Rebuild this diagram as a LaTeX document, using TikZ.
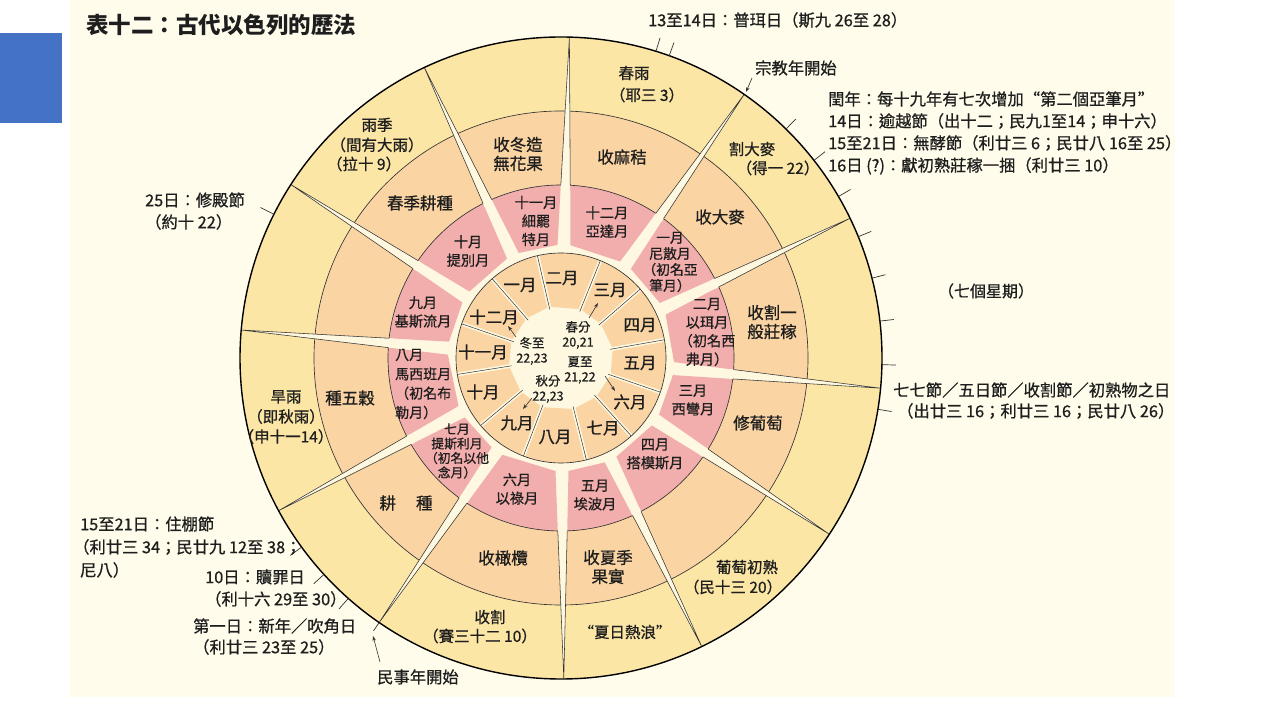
\documentclass[tikz,border=0pt]{standalone}
\usepackage{fontspec}
\setmainfont{Noto Sans CJK TC}[FakeBold=0.8]
\newfontfamily\titlefont{Noto Sans CJK TC}
\usetikzlibrary{calc,arrows.meta}
\definecolor{bgc}{HTML}{FFFCEB}
\definecolor{yel}{HTML}{FCE6A6}
\definecolor{pch}{HTML}{FAD4A3}
\definecolor{pnk}{HTML}{F2AEAC}
\definecolor{crm}{HTML}{FEF8E0}
\definecolor{lin}{HTML}{333333}
\definecolor{blu}{HTML}{4472C4}
\definecolor{txt}{HTML}{1E1E1E}
\begin{document}
\begin{tikzpicture}[x=1pt,y=1pt,
  ytxt/.style={font=\fontsize{15.5}{20}\selectfont, align=center, inner sep=0pt, text=txt},
  ptxt/.style={font=\fontsize{16.5}{19}\selectfont, align=center, inner sep=0pt, text=txt},
  ktxt/.style={font=\fontsize{14.2}{18.5}\selectfont, align=center, inner sep=0pt, text=txt},
  mtxt/.style={font=\fontsize{16.5}{19}\selectfont, inner sep=0pt, text=txt},
  ctxt/.style={font=\fontsize{12.5}{15}\selectfont, align=center, inner sep=0pt, text=txt},
  ann/.style={font=\fontsize{16.3}{18}\selectfont, anchor=west, inner sep=0pt, text=txt},
  ringline/.style={draw=lin, line width=0.65pt},
  ticky/.style={draw=lin, line width=0.7pt},
  pointer/.style={draw=lin, line width=0.6pt, -{Stealth[length=5pt,width=3.5pt]}},
]
\useasboundingbox (0,0) rectangle (1280,720);
\fill[white] (0,0) rectangle (1280,720);
\fill[bgc] (70,23) rectangle (1175,720);
\fill[blu] (0,597) rectangle (62,687);
\coordinate (C) at (561,362);
% rings
\fill[yel] (C) circle[radius=321];
\fill[pch] (C) circle[radius=247];
\draw[ringline] (C) circle[radius=247];
\fill[crm] (C) circle[radius=173];
% pink (Hebrew months)
\foreach \a/\b in {55.2/88.5, 25.8/55.2, -5.4/25.8, -33.3/-5.4, -64/-33.3, -89.5/-64, -124.5/-89.5, -151.6/-124.5, -185/-151.6, 147.3/175, 115.2/147.3, 88.5/115.2}{
  \fill[pnk] ($(C)+(\a:113)+(\a+90:6.5)$) -- ($(C)+(\a:173)+(\a+90:4.7)$) arc[start angle=\a+1.55, end angle=\b-1.55, radius=173] -- ($(C)+(\b:113)+(\b-90:6.5)$) -- cycle;
}
\draw[ringline] (C) circle[radius=173];
% inner months
\foreach \a/\b in {103/131, 68/103, 41/68, 10/41, -19/10, -48/-19, -76/-48, -111/-76, -140/-111, -171/-140, 161/189, 131/161}{
  \fill[pch] ($(C)+(\a:52)+(\a+90:2)$) -- ($(C)+(\a:105)+(\a+90:2)$) arc[start angle=\a+1.1, end angle=\b-1.1, radius=105] -- ($(C)+(\b:52)+(\b-90:2)$) -- cycle;
}
\foreach \a in {103,68,41,10,-19,-48,-76,-111,-140,-171,161,131}{
  \draw[lin, line width=0.5pt] ($(C)+(\a:50)$) -- ($(C)+(\a:105)$);
}
\draw[ringline] (C) circle[radius=105];
% radial wedges
\foreach \a in {88.5,55.2,25.8,-5.4,-33.3,-64,-89.5,-124.5,-151.6,175,147.3,115.2}{
  \fill[crm] ($(C)+(\a:169)+(\a+90:4.8)$) -- ($(C)+(\a:321)$) -- ($(C)+(\a:169)+(\a-90:4.8)$) -- cycle;
  \draw[lin, line width=0.55pt] ($(C)+(\a:173)+(\a+90:4.7)$) -- ($(C)+(\a:321)$) -- ($(C)+(\a:173)+(\a-90:4.7)$);
}
\draw[black, line width=1.4pt] (C) circle[radius=321];
% ticks
\foreach \t/\l [count=\i] in {45.5/335,38/335,30.2/335,22.2/335,14.4/335,6.6/335,-1.2/335,-9.2/335,72.8/335,70.3/335,153.4/336,216.1/335,222.4/335,228.5/335,235.5/331}{
  \coordinate (ta\i) at ($(C)+(\t:321)$);
  \coordinate (tb\i) at ($(C)+(\t:\l)$);
  \draw[ticky] (ta\i) -- (tb\i);
}
% ---------- texts (pixel coordinates) ----------
\begin{scope}[shift={(0,720)}, yscale=-1]
\node[anchor=west, inner sep=0pt, text=txt, font=\titlefont\fontsize{22.5}{26}\selectfont\bfseries] (title) at (86,25) {表十二：古代以色列的歷法};
% yellow ring
\node[ytxt] (y1a) at (377,135) {雨季\\（間有大雨）};
\node[ytxt] (y1b) at (364,164) {（拉十 9）};
\node[ytxt] (y2a) at (634,73) {春雨};
\node[ytxt] (y2b) at (647,95) {（耶三 3）};
\node[ytxt] (y3a) at (752,149) {割大麥};
\node[ytxt] (y3b) at (778,168) {（得一 22）};
\node[ytxt] (y4a) at (747,567) {葡萄初熟};
\node[ytxt] (y4b) at (733,587) {（民十三 20）};
\node[ytxt] (y5) at (625,632) {“夏日熱浪”};
\node[ytxt] (y6a) at (490,617) {收割};
\node[ytxt] (y6b) at (480,636) {（賽三十二 10）};
\node[ytxt] (y7) at (286,417) {旱雨\\（即秋雨）\\（申十一14）};
% peach ring
\node[ptxt] (p1) at (518,154) {收冬造\\無花果};
\node[ptxt] (p2) at (420,203) {春季耕種};
\node[ptxt] (p3) at (622,157) {收麻秸};
\node[ptxt] (p4) at (720,217) {收大麥};
\node[ptxt] (p5) at (772,322) {收割一\\般莊稼};
\node[ptxt] (p6) at (758,423) {修葡萄};
\node[ptxt] (p7) at (608,567) {收夏季\\果實};
\node[ptxt] (p8) at (503,558) {收橄欖};
\node[ptxt] (p9) at (406,503) {耕\hspace{20pt}種};
\node[ptxt] (p10) at (350,398) {種五穀};
% pink ring
\node[ktxt] (k11) at (536,221) {十一月\\細罷\\特月};
\node[ktxt] (k12) at (607,222) {十二月\\亞達月};
\node[ktxt, font=\fontsize{13.8}{16}\selectfont] (k1) at (670,262) {一月\\尼散月\\（初名亞\\筆月）};
\node[ktxt] (k2) at (707,332) {二月\\以珥月\\（初名西\\弗月）};
\node[ktxt] (k3) at (693,400) {三月\\西彎月};
\node[ktxt] (k4) at (655,454) {四月\\搭模斯月};
\node[ktxt] (k5) at (595,495) {五月\\埃波月};
\node[ktxt] (k6) at (517,489) {六月\\以祿月};
\node[ktxt, font=\fontsize{12.8}{14.5}\selectfont] (k7) at (457,451) {七月\\提斯利月\\（初名以他\\念月）};
\node[ktxt, align=left, anchor=west, font=\fontsize{14}{19.3}\selectfont] (k8) at (395,384) {八月\\馬西班月\\（初名布\\勒月）};
\node[ktxt] (k9) at (423,312) {九月\\基斯流月};
\node[ktxt] (k10) at (468,251) {十月\\提別月};
% inner months
\node[mtxt] (m1) at (520,285) {一月};
\node[mtxt] (m2) at (562,278) {二月};
\node[mtxt] (m3) at (610,290) {三月};
\node[mtxt] (m4) at (640,325) {四月};
\node[mtxt] (m5) at (640,363) {五月};
\node[mtxt] (m6) at (630,402) {六月};
\node[mtxt] (m7) at (603,428) {七月};
\node[mtxt] (m8) at (555,437) {八月};
\node[mtxt] (m9) at (517,423) {九月};
\node[mtxt] (m10) at (483,392) {十月};
\node[mtxt] (m11) at (483,352) {十一月};
\node[mtxt] (m12) at (494,317) {十二月};
% centre
\node[ctxt] (c1) at (532,351) {冬至\\22,23};
\node[ctxt] (c2) at (578,335) {春分\\20,21};
\node[ctxt] (c3) at (580,370) {夏至\\21,22};
\node[ctxt] (c4) at (548,389) {秋分\\22,23};
\coordinate (c1s) at (516,337); \coordinate (c1e) at (508,326);
\coordinate (c2s) at (589,318); \coordinate (c2e) at (598,303);
\coordinate (c3s) at (605,376); \coordinate (c3e) at (615,391);
\coordinate (c4s) at (532,398); \coordinate (c4e) at (523,409);
\draw[pointer] (c1s) -- (c1e);
\draw[pointer] (c2s) -- (c2e);
\draw[pointer] (c3s) -- (c3e);
\draw[pointer] (c4s) -- (c4e);
% annotations
\node[ann] (a1) at (648,20) {13至14日：普珥日（斯九 26至 28）};
\node[ann] (a2) at (755,68) {宗教年開始};
\node[ann] (a3) at (828,99) {閏年：每十九年有七次增加“第二個亞筆月”};
\node[ann] (a4) at (828,121) {14日：逾越節（出十二；民九1至14；申十六）};
\node[ann] (a5) at (828,143) {15至21日：無酵節（利廿三 6；民廿八 16至 25）};
\node[ann] (a6) at (828,166) {16日 (?)：獻初熟莊稼一捆（利廿三 10）};
\node[ytxt, font=\fontsize{16}{18}\selectfont] (a7) at (986,291) {（七個星期）};
\node[ann] (a8) at (893,390) {七七節／五日節／收割節／初熟物之日};
\node[ann] (a9) at (897,411) {（出廿三 16；利廿三 16；民廿八 26）};
\node[ann] (a10) at (145,200) {25日：修殿節};
\node[ann] (a11) at (145,222) {（約十 22）};
\node[ann] (a12) at (80,524) {15至21日：住棚節};
\node[ann] (a13) at (73,547) {（利廿三 34；民廿九 12至 38；};
\node[ann] (a14) at (80,570) {尼八）};
\node[ann] (a15) at (205,577) {10日：贖罪日};
\node[ann] (a16) at (205,599) {（利十六 29至 30）};
\node[ann] (a17) at (193,626) {第一日：新年／吹角日};
\node[ann] (a18) at (193,647) {（利廿三 23至 25）};
\node[ann] (a19) at (377,677) {民事年開始};
\coordinate (r1) at (752,78); \coordinate (r2) at (746,92);
\draw[pointer] (r1) -- (r2);
\coordinate (v1) at (380,662); \coordinate (v2) at (373,636);
\draw[pointer] (v1) -- (v2);
\end{scope}
\end{tikzpicture}
\end{document}
